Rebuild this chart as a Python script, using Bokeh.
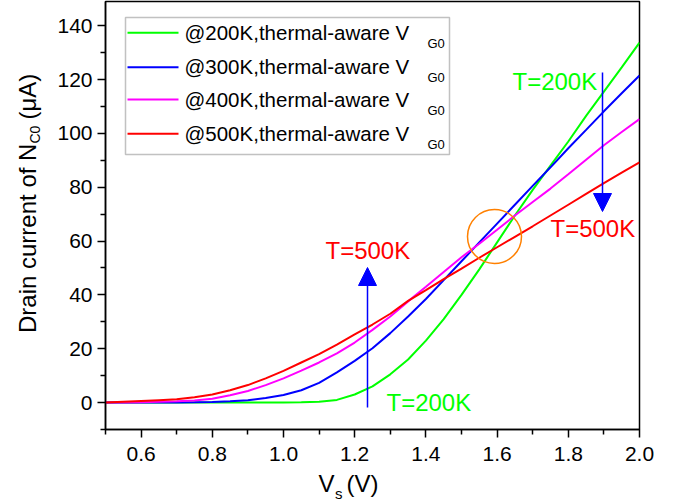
import math
from bokeh.plotting import figure
from bokeh.layouts import row, column
from bokeh.models import (Range1d, FixedTicker, PrintfTickFormatter, Label, Arrow,
                          NormalHead, BoxAnnotation)
from bokeh.core.properties import value
from bokeh.embed import file_html
from bokeh.resources import INLINE

# ---------------- data ----------------
vs = [0.5, 0.55, 0.6, 0.65, 0.7, 0.75, 0.8, 0.85, 0.9, 0.95, 1.0, 1.05, 1.1, 1.15, 1.2, 1.25,
      1.3, 1.35, 1.4, 1.45, 1.5, 1.55, 1.6, 1.65, 1.7, 1.75, 1.8, 1.85, 1.9, 1.95, 2.0]
i_200k = [0, 0, 0, 0, 0, 0, 0, 0, 0, 0, 0.05, 0.1, 0.3, 1.0, 3.0, 6.0,
          10.5, 16.0, 23.0, 31.0, 40.0, 49.5, 59.5, 69.5, 79.0, 88.0, 97.0, 106.5, 115.5, 124.5, 133.7]
i_300k = [0, 0, 0, 0.02, 0.05, 0.1, 0.2, 0.45, 0.9, 1.7, 2.8, 4.6, 7.3, 11.2, 15.5, 20.2,
          25.8, 32.0, 38.5, 45.5, 52.5, 59.5, 66.5, 73.5, 80.5, 87.4, 94.5, 101.3, 108.2, 114.9, 121.5]
i_400k = [0, 0.05, 0.15, 0.3, 0.45, 0.8, 1.4, 2.7, 4.3, 6.5, 9.0, 11.9, 14.9, 18.3, 22.3, 27.0,
          32.0, 37.6, 43.0, 48.5, 54.0, 59.0, 64.2, 69.5, 74.5, 79.5, 84.8, 90.2, 95.6, 100.5, 105.3]
i_500k = [0, 0.3, 0.6, 0.9, 1.2, 2.0, 3.0, 4.6, 6.5, 9.0, 11.8, 14.9, 18.0, 21.5, 25.3, 29.0,
          33.0, 37.8, 41.8, 45.9, 49.8, 53.8, 57.7, 61.6, 65.5, 69.5, 73.5, 77.5, 81.5, 85.4, 89.2]

series_labels = ["@200K,thermal-aware V", "@300K,thermal-aware V",
                 "@400K,thermal-aware V", "@500K,thermal-aware V"]
series_sub = "G0"
series_colors = ["#00FF00", "#0000FF", "#FF00FF", "#FF0000"]

x_ticks = [0.6, 0.8, 1.0, 1.2, 1.4, 1.6, 1.8, 2.0]
x_minor = [0.5, 0.7, 0.9, 1.1, 1.3, 1.5, 1.7, 1.9]
y_ticks = [0, 20, 40, 60, 80, 100, 120, 140]
y_minor = [-10, 10, 30, 50, 70, 90, 110, 130]

# ---------------- layout (page pixels) ----------------
FONT = "Liberation Sans"
TOTAL_W, TOTAL_H = 680, 503
YLAB_W = 50                      # strip for the y-axis title
MAIN_H = 470                     # main figure height, x-title strip below
FL, FR, FT, FB = 105, 639, 1, 429   # frame edges in page pixels
X0, X1, Y0, Y1 = 0.5, 2.0, -10.0, 149.0


def px2x(px):
    return X0 + (px - FL) / (FR - FL) * (X1 - X0)


def py2y(py):
    return Y0 + (FB - py) / (FB - FT) * (Y1 - Y0)


main_w = TOTAL_W - YLAB_W
p = figure(width=main_w, height=MAIN_H, output_backend="svg", toolbar_location=None,
           x_range=Range1d(X0, X1), y_range=Range1d(Y0, Y1),
           min_border_left=FL - YLAB_W, min_border_right=TOTAL_W - FR,
           min_border_top=FT, min_border_bottom=MAIN_H - FB)
p.background_fill_color = "white"
p.border_fill_color = "white"
p.outline_line_color = "black"
p.outline_line_width = 1.5
p.xgrid.visible = False
p.ygrid.visible = False

for ax, ticks, minor in ((p.xaxis[0], x_ticks, x_minor), (p.yaxis[0], y_ticks, y_minor)):
    ax.ticker = FixedTicker(ticks=ticks, minor_ticks=minor)
    ax.axis_line_color = "black"
    ax.axis_line_width = 1.5
    ax.major_tick_line_color = "black"
    ax.minor_tick_line_color = "black"
    ax.major_tick_line_width = 1.5
    ax.minor_tick_line_width = 1.5
    ax.major_tick_out = 8
    ax.major_tick_in = 0
    ax.minor_tick_out = 5
    ax.minor_tick_in = 0
    ax.major_label_text_font = FONT
    ax.major_label_text_font_size = "21px"
    ax.major_label_text_color = "black"
p.xaxis[0].formatter = PrintfTickFormatter(format="%.1f")
p.xaxis[0].major_label_standoff = 9
p.yaxis[0].major_label_standoff = 5

# ---------------- curves ----------------
for ys, c in zip([i_200k, i_300k, i_400k, i_500k], series_colors):
    p.line(vs, ys, line_color=c, line_width=2)


def lab(text, px, py, size, color="black"):
    # (px, py): page position of the text's left end, vertical centre of its capitals
    p.add_layout(Label(x=px2x(px), y=py2y(py), text=text, text_font=FONT,
                       text_font_size=size, text_color=color,
                       text_align="left", text_baseline="alphabetic"))


# ---------------- legend ----------------
p.add_layout(BoxAnnotation(left=px2x(125), right=px2x(449), top=py2y(17), bottom=py2y(154),
                           fill_color="white", fill_alpha=1.0, line_color="#333333",
                           line_width=1.5, level="underlay"))
rows = [32.3, 66.7, 99.0, 133.3]
for r, text, c in zip(rows, series_labels, series_colors):
    p.segment(x0=[px2x(127)], y0=[py2y(r)], x1=[px2x(178)], y1=[py2y(r)],
              line_color=c, line_width=2)
    lab(text, 184, r - 0.5, "20.5px")
    lab(series_sub, 427, r + 10.5, "13px")

# ---------------- annotations ----------------
lab("T=200K", 512, 80.5, "24px", color="#00FF00")
lab("T=500K", 550, 228, "24px", color="#FF0000")
lab("T=500K", 325, 250, "24px", color="#FF0000")
lab("T=200K", 386, 401.5, "24px", color="#00FF00")

for xa, ya0, ya1 in ((367, 407, 267), (602, 72, 211)):
    p.add_layout(Arrow(end=NormalHead(size=18, fill_color="#0000FF", line_color="#0000FF"),
                       x_start=px2x(xa), y_start=py2y(ya0), x_end=px2x(xa), y_end=py2y(ya1),
                       line_color="#0000FF", line_width=1.5))

p.scatter(x=[px2x(494)], y=[py2y(236)], marker="circle", size=54,
          fill_color=None, line_color="#FF8000", line_width=1.5)

# ---------------- y-axis title strip ----------------
# the row aligns this strip's frame with the main frame (page y FT..FB),
# so its y range is expressed in page pixels (downward) over that span
ylab = figure(width=YLAB_W, height=MAIN_H, output_backend="svg", toolbar_location=None,
              x_range=Range1d(0, YLAB_W), y_range=Range1d(FB, FT),
              x_axis_location=None, y_axis_location=None,
              min_border=0, outline_line_color=None)
ylab.xgrid.visible = False
ylab.ygrid.visible = False
for t, xx, yy, fs in (("Drain current of N", 27, 332.5, "24px"),
                      ("C0", 34, 143.0, "14px"),
                      ("(\u03bcA)", 27, 119.0, "24px")):
    ylab.text(x=[xx], y=[yy], text=[t], angle=math.pi / 2, text_align="left",
              text_baseline="alphabetic", text_font=value(FONT),
              text_font_size=value(fs), text_color="black")

# ---------------- x-axis title strip ----------------
XL_H = TOTAL_H - MAIN_H
xlab = figure(width=TOTAL_W, height=XL_H, output_backend="svg", toolbar_location=None,
              x_range=Range1d(0, TOTAL_W), y_range=Range1d(TOTAL_H, MAIN_H),
              x_axis_location=None, y_axis_location=None,
              min_border=0, outline_line_color=None)
xlab.xgrid.visible = False
xlab.ygrid.visible = False
for t, xx, yy, fs in (("V", 318, 483.0, "24px"),
                      ("s", 334.5, 492.5, "15px"),
                      ("(V)", 346, 483.0, "24px")):
    xlab.text(x=[xx], y=[yy], text=[t], text_align="left",
              text_baseline="alphabetic", text_font=value(FONT),
              text_font_size=value(fs), text_color="black")

layout = column(row(ylab, p), xlab)
open("out.html", "w").write(file_html(layout, INLINE))
